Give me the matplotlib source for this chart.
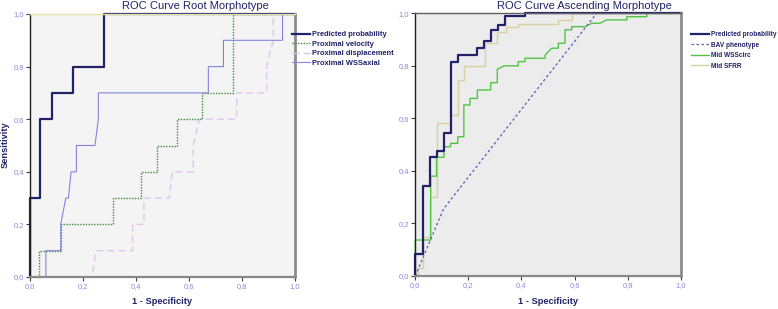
import numpy as np
import matplotlib
matplotlib.use("Agg")
import matplotlib.pyplot as plt

plt.rcParams['font.family'] = ['Liberation Sans', 'DejaVu Sans']

#---------------------------------DATA
tick_vals = [0.0, 0.2, 0.4, 0.6, 0.8, 1.0]
tick_labels = ["0,0", "0,2", "0,4", "0,6", "0,8", "1,0"]

# Root morphotype
root_labels = ["Predicted probability", "Proximal velocity",
               "Proximal displacement", "Proximal WSSaxial"]
root_pred_fpr = [0, 0, 0.038, 0.038, 0.082, 0.082, 0.163, 0.163, 0.28, 0.28, 1.0]
root_pred_tpr = [0, 0.3, 0.3, 0.6, 0.6, 0.7, 0.7, 0.8, 0.8, 1.0, 1.0]
root_vel_fpr = [0, 0.035, 0.035, 0.116, 0.116, 0.314, 0.314, 0.418, 0.418, 0.478,
                0.478, 0.556, 0.556, 0.65, 0.65, 0.767, 0.767, 1.0]
root_vel_tpr = [0, 0, 0.1, 0.1, 0.2, 0.2, 0.3, 0.3, 0.4, 0.4,
                0.5, 0.5, 0.6, 0.6, 0.7, 0.7, 1.0, 1.0]
root_disp_fpr = [0, 0.234, 0.249, 0.387, 0.387, 0.43, 0.43, 0.526, 0.536, 0.616,
                 0.616, 0.639, 0.78, 0.78, 0.893, 0.893, 0.905, 0.918, 0.918, 1.0]
root_disp_tpr = [0, 0, 0.1, 0.1, 0.2, 0.2, 0.3, 0.3, 0.4, 0.4,
                 0.5, 0.6, 0.6, 0.7, 0.7, 0.8, 0.85, 0.9, 1.0, 1.0]
root_wss_fpr = [0, 0.06, 0.06, 0.116, 0.116, 0.135, 0.145, 0.155, 0.175, 0.175,
                0.245, 0.258, 0.258, 0.673, 0.673, 0.73, 0.73, 0.953, 0.953, 1.0]
root_wss_tpr = [0, 0, 0.1, 0.1, 0.2, 0.3, 0.3, 0.4, 0.4, 0.5,
                0.5, 0.6, 0.7, 0.7, 0.8, 0.8, 0.9, 0.9, 1.0, 1.0]

# Ascending morphotype
asc_labels = ["Predicted probability", "BAV phenotype", "Mid WSScirc", "Mid SFRR"]
asc_pred_fpr = [0, 0, 0.03, 0.03, 0.055, 0.055, 0.083, 0.083, 0.108, 0.108, 0.133, 0.133,
                0.16, 0.16, 0.234, 0.234, 0.259, 0.259, 0.284, 0.284, 0.313, 0.313,
                0.338, 0.338, 0.413, 0.413, 1.0]
asc_pred_tpr = [0, 0.084, 0.084, 0.343, 0.343, 0.452, 0.452, 0.477, 0.477, 0.545, 0.545, 0.816,
                0.816, 0.841, 0.841, 0.867, 0.867, 0.896, 0.896, 0.937, 0.937, 0.956,
                0.956, 0.99, 0.99, 1.0, 1.0]
asc_bav_fpr = [0, 0.106, 0.683, 1.0]
asc_bav_tpr = [0, 0.255, 1.0, 1.0]
asc_wss_fpr = [0, 0, 0.058, 0.058, 0.08, 0.08, 0.108, 0.108, 0.133, 0.133, 0.16, 0.16,
               0.183, 0.183, 0.206, 0.206, 0.234, 0.234, 0.284, 0.284, 0.309, 0.309,
               0.334, 0.388, 0.388, 0.413, 0.413, 0.489, 0.489, 0.514, 0.514, 0.539,
               0.539, 0.564, 0.564, 0.589, 0.589, 0.639, 0.665, 0.696, 0.721, 0.797,
               0.797, 0.872, 0.872, 1.0]
asc_wss_tpr = [0, 0.137, 0.137, 0.38, 0.38, 0.452, 0.452, 0.492, 0.492, 0.505, 0.505, 0.53,
               0.53, 0.651, 0.651, 0.676, 0.676, 0.708, 0.708, 0.736, 0.736, 0.787,
               0.8, 0.8, 0.816, 0.816, 0.829, 0.829, 0.841, 0.867, 0.867, 0.867,
               0.886, 0.886, 0.937, 0.937, 0.949, 0.949, 0.962, 0.962, 0.975, 0.975,
               0.987, 0.987, 1.0, 1.0]
asc_sfrr_fpr = [0, 0.01, 0.01, 0.03, 0.03, 0.055, 0.055, 0.08, 0.08, 0.133, 0.133,
                0.16, 0.16, 0.183, 0.183, 0.263, 0.263, 0.309, 0.309, 0.342, 0.342,
                0.388, 0.388, 0.539, 0.539, 0.589, 0.589, 1.0]
asc_sfrr_tpr = [0, 0, 0.03, 0.03, 0.15, 0.15, 0.3, 0.3, 0.584, 0.584, 0.613,
                0.613, 0.746, 0.746, 0.8, 0.8, 0.886, 0.886, 0.93, 0.93, 0.949,
                0.949, 0.959, 0.959, 0.975, 0.975, 1.0, 1.0]

#---------------------------------STYLE
navy = '#22226a'
tick_col = '#8a8ad8'

fig = plt.figure(figsize=(7.78, 3.09), dpi=100)
W, H = 778.0, 309.0
ax1 = fig.add_axes([30 / W, (H - 277) / H, 265 / W, 263 / H])
ax2 = fig.add_axes([415.3 / W, (H - 276) / H, 265.4 / W, 262.7 / H])


def style_axes(ax, face, top_col):
    ax.set_facecolor(face)
    ax.set_xlim(0, 1)
    ax.set_ylim(0, 1)
    ax.set_xticks(tick_vals)
    ax.set_xticklabels(tick_labels)
    ax.set_yticks(tick_vals)
    ax.set_yticklabels(tick_labels)
    ax.tick_params(direction='out', length=3, width=0.8, color='#404040',
                   labelcolor=tick_col, labelsize=5.5, pad=1.5)
    ax.spines['left'].set_color('#202020')
    ax.spines['left'].set_linewidth(1.0)
    ax.spines['bottom'].set_color('#888888')
    ax.spines['bottom'].set_linewidth(1.6)
    ax.spines['right'].set_color('#8c8c8c')
    ax.spines['right'].set_linewidth(2.0)
    ax.spines['top'].set_color(top_col)
    ax.spines['top'].set_linewidth(1.0)


style_axes(ax1, '#f4f4f4', '#e6e2a8')
style_axes(ax2, '#ececec', '#606060')

# left plot
ax1.plot(root_disp_fpr, root_disp_tpr, color='#dcc6ee', lw=1.0, dashes=(5, 3), label=root_labels[2])
ax1.plot(root_vel_fpr, root_vel_tpr, color='#3f8a3f', lw=1.0, linestyle=(0, (1, 1)), label=root_labels[1])
ax1.plot(root_wss_fpr, root_wss_tpr, color='#8484e0', lw=0.8, label=root_labels[3])
ax1.plot(root_pred_fpr, root_pred_tpr, color=navy, lw=1.6, label=root_labels[0])

# right plot
ax2.plot(asc_sfrr_fpr, asc_sfrr_tpr, color='#d6d0a2', lw=1.0, label=asc_labels[3])
ax2.plot(asc_wss_fpr, asc_wss_tpr, color='#52c444', lw=1.0, label=asc_labels[2])
ax2.plot(asc_bav_fpr, asc_bav_tpr, color='#5a5ab8', lw=0.9, dashes=(2, 2), label=asc_labels[1])
ax2.plot(asc_pred_fpr, asc_pred_tpr, color=navy, lw=1.6, label=asc_labels[0])

for a in (ax1, ax2):
    for ln in a.lines:
        ln.set_clip_on(False)

# legends in reference order
h1 = {l.get_label(): l for l in ax1.lines}
leg1 = ax1.legend([h1[k] for k in root_labels], root_labels, loc='upper left',
                  bbox_to_anchor=(292 / W, (H - 31) / H), bbox_transform=fig.transFigure,
                  frameon=False, fontsize=5.4, handlelength=2.4, handletextpad=0.3,
                  labelspacing=0.3, borderpad=0, borderaxespad=0)
h2 = {l.get_label(): l for l in ax2.lines}
leg2 = ax2.legend([h2[k] for k in asc_labels], asc_labels, loc='upper left',
                  bbox_to_anchor=(691 / W, (H - 31) / H), bbox_transform=fig.transFigure,
                  frameon=False, fontsize=4.7, handlelength=2.7, handletextpad=0.3,
                  labelspacing=0.55, borderpad=0, borderaxespad=0)
for lg in (leg1, leg2):
    for t in lg.get_texts():
        t.set_color(navy)
        t.set_fontweight('bold')

# titles and axis labels
fig.text(195 / W, (H - 6) / H, "ROC Curve Root Morphotype", ha='center', va='center',
         fontsize=8, color=navy)
fig.text(584 / W, (H - 6) / H, "ROC Curve Ascending Morphotype", ha='center', va='center',
         fontsize=8, color=navy)
fig.text(162.5 / W, (H - 301.5) / H, "1 - Specificity", ha='center', va='center',
         fontsize=6.7, fontweight='bold', color=navy)
fig.text(548 / W, (H - 301.5) / H, "1 - Specificity", ha='center', va='center',
         fontsize=6.7, fontweight='bold', color=navy)
fig.text(5 / W, (H - 145) / H, "Sensitivity", ha='center', va='center', rotation=90,
         fontsize=6.7, fontweight='bold', color=navy)

fig.savefig("out.png", dpi=100)
